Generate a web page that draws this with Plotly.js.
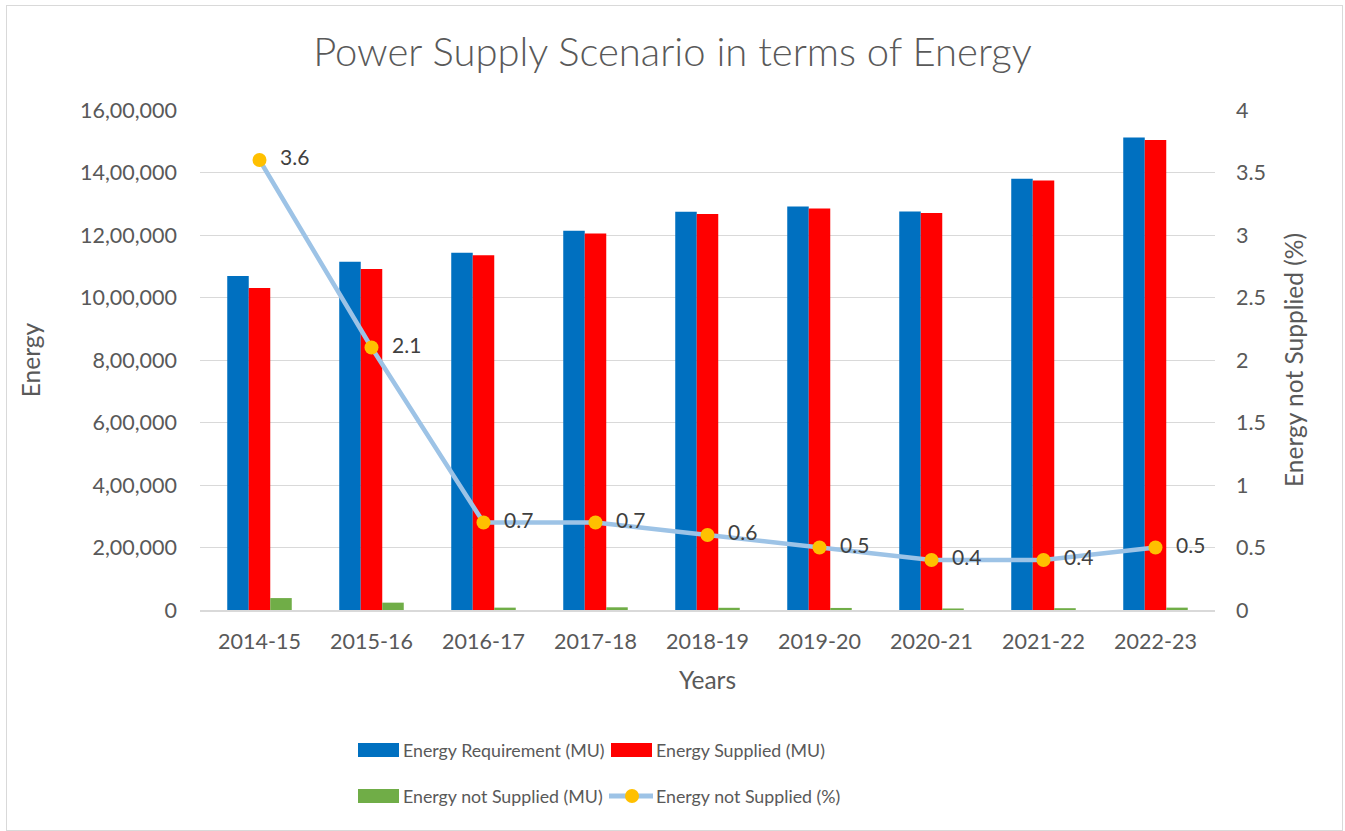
<!DOCTYPE html>
<html><head><meta charset="utf-8">
<script src="https://cdn.plot.ly/plotly-3.0.1.min.js"></script>
<style>
html,body{margin:0;padding:0;background:#fff;}
#chart{position:absolute;left:0;top:0;width:1345px;height:831px;}
#frame{position:absolute;left:6px;top:5px;width:1335px;height:824px;border:1px solid #d9d9d9;pointer-events:none;}
</style>
</head><body>
<div id="chart"></div><div id="frame"></div>
<script>
// ---- data ----
const years = ['2014-15','2015-16','2016-17','2017-18','2018-19','2019-20','2020-21','2021-22','2022-23'];
const energyRequirement = [1068923,1114408,1142929,1213326,1274595,1291010,1275534,1379812,1511847];
const energySupplied = [1030785,1090850,1135334,1204697,1267526,1284444,1270663,1374024,1504264];
const energyNotSupplied = [38138,23558,7595,8629,7070,6566,4871,5787,7583];
const energyNotSuppliedPct = [3.6,2.1,0.7,0.7,0.6,0.5,0.4,0.4,0.5];
const yTickVals = [0,200000,400000,600000,800000,1000000,1200000,1400000,1600000];
const yTickText = ['0','2,00,000','4,00,000','6,00,000','8,00,000','10,00,000','12,00,000','14,00,000','16,00,000'];
const y2TickVals = [0,0.5,1,1.5,2,2.5,3,3.5,4];
const y2TickText = ['0','0.5','1','1.5','2','2.5','3','3.5','4'];
const seriesNames = ['Energy Requirement (MU)','Energy Supplied (MU)','Energy not Supplied (MU)','Energy not Supplied (%)'];
const chartTitle = 'Power Supply Scenario in terms of Energy';
const xTitle = 'Years';
const yTitle = 'Energy';
const y2Title = 'Energy not Supplied (%)';

// ---- style ----
const colors = ['#0070C0','#FF0000','#70AD47','#9DC3E6'];
const markerColor = '#FFC000';
const FONT = 'Lato, "Open Sans", sans-serif';
const textColor = '#595959';
const TICK = 21.5;
const W = 1345, H = 831;
const M = {l:200, r:130, t:110, b:221};
const PW = W - M.l - M.r, PH = H - M.t - M.b;
const px = x => (x - M.l) / PW;
const py = y => (H - M.b - y) / PH;
const NB = '\u00a0\u00a0';

const traces = [
  {type:'bar', x:years, y:energyRequirement, name:seriesNames[0], marker:{color:colors[0]}},
  {type:'bar', x:years, y:energySupplied, name:seriesNames[1], marker:{color:colors[1]}},
  {type:'bar', x:years, y:energyNotSupplied, name:seriesNames[2], marker:{color:colors[2]}},
  {type:'scatter', mode:'lines+markers+text', x:years, y:energyNotSuppliedPct, yaxis:'y2',
   name:seriesNames[3], line:{color:colors[3], width:4.5},
   marker:{color:markerColor, size:14},
   text:energyNotSuppliedPct.map(v=>NB+String(v)), textposition:'middle right',
   textfont:{family:FONT, size:21, color:'#404040'}, cliponaxis:false}
];

// manual legend (Excel style)
const legendRows = [750, 796];
const legendCols = [358, 611];
const shapes = [];
const annotations = [];
for (let i = 0; i < 4; i++) {
  const row = Math.floor(i/2), col = i%2;
  const yc = legendRows[row], x0 = legendCols[col];
  if (i < 3) {
    shapes.push({type:'rect', xref:'paper', yref:'paper', x0:px(x0), x1:px(x0+41), y0:py(yc+7), y1:py(yc-7),
      fillcolor:colors[i], line:{width:0}});
  } else {
    shapes.push({type:'line', xref:'paper', yref:'paper', x0:px(x0-2), x1:px(x0+42), y0:py(yc), y1:py(yc),
      line:{color:colors[3], width:5}});
    shapes.push({type:'circle', xref:'paper', yref:'paper', x0:px(x0+21-7), x1:px(x0+21+7), y0:py(yc+7), y1:py(yc-7),
      fillcolor:markerColor, line:{width:0}});
  }
  annotations.push({xref:'paper', yref:'paper', x:px(x0+43), y:py(yc), xanchor:'left', yanchor:'middle',
    text:seriesNames[i], showarrow:false, font:{family:FONT, size:17.8, color:textColor}});
}

const layout = {
  width:W, height:H, margin:M,
  paper_bgcolor:'#fff', plot_bgcolor:'#fff',
  showlegend:false,
  barmode:'group', bargap:0.424, bargroupgap:0,
  title:{text:chartTitle, x:0.5, xref:'container', xanchor:'center', y:1-52/H, yref:'container', yanchor:'middle',
    font:{family:FONT, size:40, color:textColor, weight:300}},
  font:{family:FONT, color:textColor},
  xaxis:{type:'category', showgrid:false, showline:true, linecolor:'#D9D9D9', linewidth:1.5, ticks:'',
    tickfont:{family:FONT, size:TICK, color:textColor}, ticklabelstandoff:12,
    title:{text:xTitle, font:{family:FONT, size:24.5, color:textColor}, standoff:18}},
  yaxis:{range:[0,1600000], tickvals:yTickVals, ticktext:yTickText, showgrid:true, gridcolor:'#D9D9D9', gridwidth:1,
    zeroline:false, showline:false, ticks:'', tickfont:{family:FONT, size:TICK, color:textColor}, ticklabelstandoff:22,
    title:{text:yTitle, font:{family:FONT, size:24.5, color:textColor}, standoff:32}},
  yaxis2:{range:[0,4], overlaying:'y', side:'right', tickvals:y2TickVals, ticktext:y2TickText, showgrid:false,
    zeroline:false, showline:false, ticks:'', tickfont:{family:FONT, size:TICK, color:textColor}, ticklabelstandoff:20,
    title:{text:y2Title, font:{family:FONT, size:24.5, color:textColor}, standoff:20}},
  shapes:shapes, annotations:annotations
};

Plotly.newPlot('chart', traces, layout, {displayModeBar:false, staticPlot:true});
</script>
</body></html>
